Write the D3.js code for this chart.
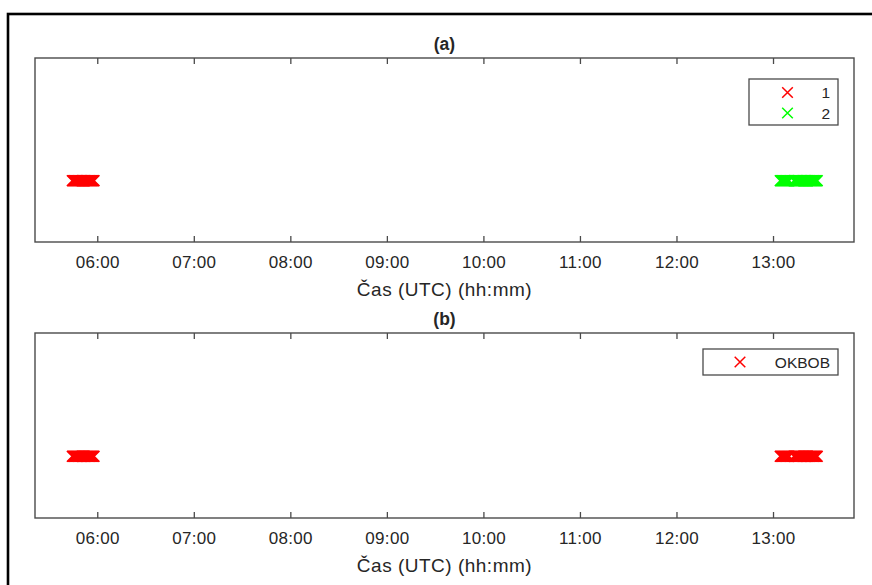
<!DOCTYPE html>
<html>
<head>
<meta charset="utf-8">
<script src="https://cdn.jsdelivr.net/npm/d3@7"></script>
<style>
  html, body { margin: 0; padding: 0; background: #fff; }
  svg { display: block; }
  text { font-family: "Liberation Sans", Arial, Helvetica, sans-serif; fill: #262626; }
</style>
</head>
<body>
<svg id="fig" width="872" height="585"></svg>
<script>
// Detection times (UTC) of cluster 1 (morning pass)
const cluster1Times = [
  "05:44:30","05:45:00","05:45:30","05:46:00","05:46:30","05:47:00","05:47:30",
  "05:48:00","05:48:30","05:49:00","05:49:30","05:50:00","05:50:30","05:51:00",
  "05:51:30","05:52:00","05:52:30","05:53:00","05:53:30","05:54:00","05:54:30",
  "05:55:00","05:55:30","05:56:00","05:56:30","05:57:00","05:57:30","05:58:00"
];
// Detection times (UTC) of cluster 2 (afternoon pass, short dropout near 13:11)
const cluster2Times = [
  "13:04:30","13:05:00","13:05:30","13:06:00","13:06:30","13:07:00","13:07:30",
  "13:08:00","13:08:30","13:09:00","13:09:30","13:10:00",
  "13:13:00","13:13:30","13:14:00","13:14:30","13:15:00","13:15:30",
  "13:16:00","13:16:30","13:17:00","13:17:30","13:18:00","13:18:30","13:19:00",
  "13:19:30","13:20:00","13:20:30","13:21:00","13:21:30","13:22:00","13:22:30",
  "13:23:00","13:23:30","13:24:00","13:24:30","13:25:00","13:25:30","13:26:00",
  "13:26:30","13:27:00","13:27:30"
];
// Station OKBOB sees both passes
const okbobTimes = cluster1Times.concat(cluster2Times);

// Plotted level of every detection on the y axis
const detectionLevel = 1;
const yLimits = [0, 3];

// Time axis limits and tick labels
const timeLimits = ["05:21:18", "13:50:20"];
const tickLabels = ["06:00","07:00","08:00","09:00","10:00","11:00","12:00","13:00"];

const panels = [
  { title: "(a)", top: 58, bottom: 242,
    series: [
      { name: "1", times: cluster1Times, color: "#ff0000" },
      { name: "2", times: cluster2Times, color: "#00ff00" }
    ],
    legend: { x: 749, y: 79, w: 89, h: 46 } },
  { title: "(b)", top: 333, bottom: 518,
    series: [
      { name: "OKBOB", times: okbobTimes, color: "#ff0000" }
    ],
    legend: { x: 703, y: 349, w: 135, h: 26 } }
];

const pt = s => d3.utcParse("%H:%M:%S")(s.length === 5 ? s + ":00" : s);

const svg = d3.select("#fig");
const axColor = "#4a4a4a";
const left = 35, right = 854;

// Figure frame
svg.append("rect")
  .attr("x", 8).attr("y", 14).attr("width", 900).attr("height", 600)
  .attr("fill", "none").attr("stroke", "#000").attr("stroke-width", 2.6);

const x = d3.scaleUtc().domain(timeLimits.map(pt)).range([left, right]);
const tickValues = tickLabels.map(pt);

// Cross marker path of half-size r
const cross = r => `M${-r},${-r}L${r},${r}M${-r},${r}L${r},${-r}`;

panels.forEach(p => {
  const g = svg.append("g");
  const y = d3.scaleLinear().domain(yLimits).range([p.bottom, p.top]);
  const tickLen = 6;

  // Markers
  p.series.forEach(s => {
    g.append("g").selectAll("path")
      .data(s.times)
      .join("path")
      .attr("transform", d => `translate(${x(pt(d))},${y(detectionLevel)})`)
      .attr("d", cross(5.4))
      .attr("fill", "none")
      .attr("stroke", s.color)
      .attr("stroke-width", 1.6);
  });

  // Bottom axis with inward ticks
  const axB = d3.axisBottom(x).tickValues(tickValues)
    .tickFormat(d3.utcFormat("%H:%M")).tickSizeInner(-tickLen).tickSizeOuter(0).tickPadding(14);
  const gb = g.append("g").attr("transform", `translate(0,${p.bottom})`).call(axB);
  gb.select(".domain").remove();
  gb.selectAll(".tick line").attr("stroke", axColor).attr("stroke-width", 1.3);
  gb.selectAll(".tick text").attr("font-size", 17).attr("fill", "#262626")
    .style("letter-spacing", "0.3px")
    .style("font-family", '"Liberation Sans", Arial, sans-serif');

  // Top axis ticks
  const axT = d3.axisTop(x).tickValues(tickValues).tickFormat("").tickSizeInner(-tickLen).tickSizeOuter(0);
  const gt = g.append("g").attr("transform", `translate(0,${p.top})`).call(axT);
  gt.select(".domain").remove();
  gt.selectAll(".tick line").attr("stroke", axColor).attr("stroke-width", 1.3);

  // Axes box
  g.append("rect")
    .attr("x", left).attr("y", p.top)
    .attr("width", right - left).attr("height", p.bottom - p.top)
    .attr("fill", "none").attr("stroke", axColor).attr("stroke-width", 1.4);

  // Title and x label
  g.append("text").attr("x", (left + right) / 2).attr("y", p.top - 8)
    .attr("text-anchor", "middle").attr("font-size", 17.5).attr("font-weight", "bold")
    .attr("fill", "#000").text(p.title);
  g.append("text").attr("x", (left + right) / 2).attr("y", p.bottom + 54)
    .attr("text-anchor", "middle").attr("font-size", 19)
    .style("letter-spacing", "0.5px").text("Čas (UTC) (hh:mm)");

  // Legend
  const L = p.legend;
  const lg = g.append("g");
  lg.append("rect").attr("x", L.x).attr("y", L.y).attr("width", L.w).attr("height", L.h)
    .attr("fill", "#fff").attr("stroke", axColor).attr("stroke-width", 1.3);
  const rowH = p.series.length > 1 ? 20.5 : 0;
  p.series.forEach((s, i) => {
    const cy = L.y + (p.series.length > 1 ? 13.5 : L.h / 2) + i * rowH;
    const mx = p.series.length > 1 ? L.x + 38.5 : L.x + 37;
    lg.append("path").attr("transform", `translate(${mx},${cy})`)
      .attr("d", cross(5.3)).attr("fill", "none").attr("stroke", s.color).attr("stroke-width", 1.5);
    lg.append("text").attr("x", L.x + L.w - 8).attr("y", cy).attr("dy", "0.36em")
      .attr("text-anchor", "end").attr("font-size", 15.5).text(s.name);
  });
});
</script>
</body>
</html>
